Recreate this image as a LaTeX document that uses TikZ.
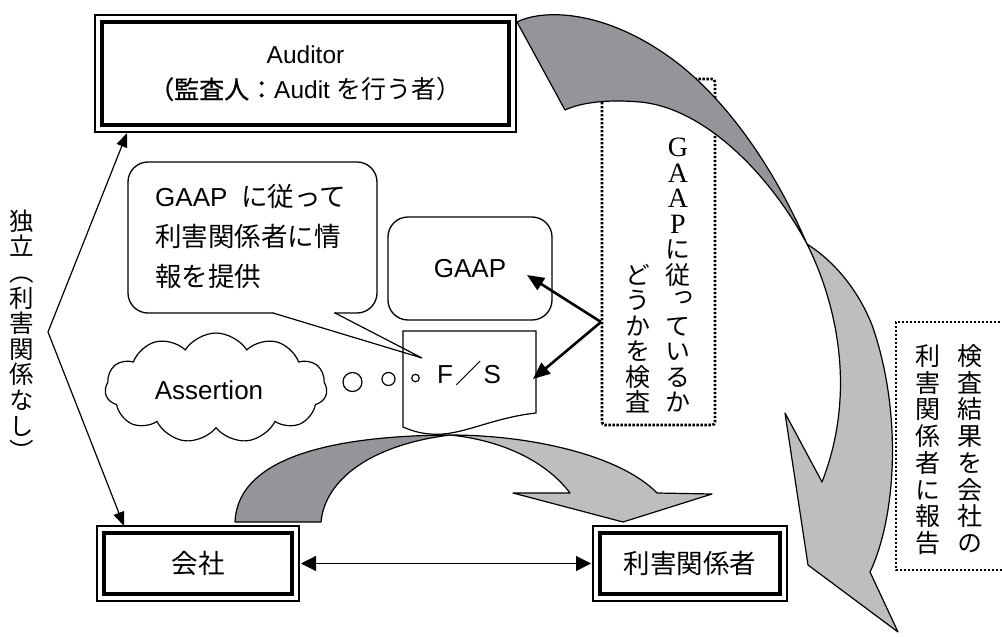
\documentclass[tikz,border=0pt]{standalone}
\usepackage{fontspec}
\setmainfont{Liberation Sans}
\newfontfamily\jpfont[Scale=1.02]{Noto Sans CJK JP}
\newfontfamily\jpboldfont[Scale=1.02,FakeBold=0.8]{Noto Sans CJK JP}
\newfontfamily\jpvfont[RawFeature=+vert]{Noto Sans CJK JP}
\newfontfamily\latvfont{Liberation Serif}
\usetikzlibrary{arrows.meta,shapes.symbols,calc}

\definecolor{ribbondark}{HTML}{939598}
\definecolor{ribbonlight}{HTML}{BCBEC0}

\tikzset{
  frame/.style={draw, line width=1.5pt, fill=white, inner sep=0pt, outer sep=0pt, align=center},
  softbox/.style={draw, line width=1.3pt, fill=white, rounded corners=20pt, inner sep=0pt, outer sep=0pt},
  dotbox/.style={line width=2.6pt, dash pattern=on 2.4pt off 1.6pt},
  ribbon/.style={draw=black, line width=1.2pt, line join=round},
  thinarrow/.style={line width=1.2pt, -{Triangle[length=14pt,width=11pt]}},
  twoway/.style={line width=1.2pt, {Triangle[length=15pt,width=15pt]}-{Triangle[length=15pt,width=15pt]}},
  boldarrow/.style={line width=2.6pt, -{Triangle[length=17pt,width=14pt]}},
  vglyph/.style={inner sep=0pt, outer sep=0pt, anchor=center},
  bubbleline/.style={inner sep=0pt, anchor=base west},
}

% thick inner rule of a framed box
\newcommand\innerframe[1]{%
  \draw[line width=3.5pt] ($(#1.north west)+(7,7)$) rectangle ($(#1.south east)+(-7,-7)$);}

% one column of vertically set characters
\newcommand\vcolumn[8]{%
  \foreach \ch [count=\k from 0] in {#8}{%
    \node[vglyph, font={\jpvfont\fontsize{#5}{#5}\selectfont}, text height=#6, text depth=#7]
      (#1-\k) at (#2,{#3+\k*#4}) {\ch};
  }%
}
% small tsu placed towards the upper right of its cell
\newcommand\smalltsu{\rlap{\hspace{3pt}\raisebox{3pt}{っ}}\phantom{っ}}
% upright roman letter in a vertical column
\newcommand\vlat[1]{{\latvfont\fontsize{28}{28}\selectfont #1}}

\begin{document}
\begin{tikzpicture}[x=1pt, y=-1pt, font=\fontsize{26}{30}\selectfont]
\useasboundingbox (0,0) rectangle (1002,637);
\fill[white] (0,0) rectangle (1002,637);

% dotted frame for the check note (partly hidden by the ribbon)
\draw[dotbox, rounded corners=3pt] (602,79) rectangle (715,425);

% large twisted ribbon arrow from the auditor down to the right
\draw[ribbon, fill=ribbondark]
  (517,22) .. controls (545,8) and (610,10) .. (680,65)
           .. controls (730,105) and (775,170) .. (807,244)
           .. controls (770,175) and (705,108) .. (640,102)
           .. controls (605,99) and (580,103) .. (565,110) -- cycle;
\draw[ribbon, fill=ribbonlight]
  (807,244) .. controls (835,300) and (858,390) .. (822,482)
  -- (785,413) -- (808,565) -- (898,632) -- (870,572)
  .. controls (897,515) and (902,410) .. (872,325)
  .. controls (858,290) and (835,262) .. (807,244) -- cycle;

% auditor
\node[frame, minimum width=421pt, minimum height=117pt, font=\fontsize{24.5}{33}\selectfont]
  (auditor) at (305.5,73.5)
  {Auditor\\[2pt]{\jpboldfont （監査人：}Audit {\jpfont を行う者）}};
\innerframe{auditor}

% company and stakeholders
\node[frame, minimum width=202pt, minimum height=75pt] (kaisha) at (198,563.5) {\jpfont 会社};
\innerframe{kaisha}
\node[frame, minimum width=194pt, minimum height=75pt] (stake) at (690,563.5) {\jpfont 利害関係者};
\innerframe{stake}

% ribbon arrow from the company to the stakeholders
\draw[ribbon, fill=ribbondark]
  (235,522) .. controls (237,470) and (300,436) .. (450,435)
            .. controls (370,445) and (325,480) .. (321,522) -- cycle;
\draw[ribbon, fill=ribbonlight]
  (450,435) .. controls (530,435) and (620,455) .. (657,493)
  -- (712,494) -- (623,522) -- (513,493) -- (570,493)
  .. controls (545,460) and (500,440) .. (450,435) -- cycle;

% speech bubble
\node[softbox, minimum width=249pt, minimum height=151pt] (bubble) at (252.5,237.5) {};
\node[bubbleline] (bub1) at (155,206) {GAAP\hspace{14pt}{\jpfont に従って}};
\node[bubbleline] (bub2) at (155,246) {\jpfont 利害関係者に情};
\node[bubbleline] (bub3) at (155,286) {\jpfont 報を提供};

% GAAP
\node[softbox, minimum width=164pt, minimum height=103pt] (gaap) at (470,268.5) {GAAP};

% financial statements document
\draw[line width=1.2pt, fill=white]
  (403,331) -- (536,331) -- (536,413)
  .. controls (490,418) and (460,437) .. (430,434)
  .. controls (418,433) and (410,430) .. (403,427) -- cycle;
\node (fs) at (469,373) {F\hspace{2pt}{\jpfont ／}\hspace{2pt}S};

% bubble tail pointing into the document
\coordinate (bubbletip) at (422,358);
\fill[white] (274,311.3) rectangle (334,314.7);
\draw[line width=1.2pt] (273,313) -- (bubbletip) -- (335,313);

% assertion cloud with thought circles
\node[cloud, draw, line width=1.2pt, fill=white, cloud puffs=11, cloud puff arc=115,
      aspect=2.1, minimum width=222pt, minimum height=110pt, inner sep=0pt] (cloud) at (216,388) {};
\node (assertion) at (209,390) {Assertion};
\node[circle, draw, line width=1.2pt, minimum size=19pt, inner sep=0pt] (th1) at (352.5,382) {};
\node[circle, draw, line width=1.2pt, minimum size=13pt, inner sep=0pt] (th2) at (388.5,379) {};
\node[circle, draw, line width=1.2pt, minimum size=7.5pt, inner sep=0pt] (th3) at (415.5,378) {};

% checking arrows
\coordinate (pivot) at (601,322);
\coordinate (gaaptip) at (527,275);
\coordinate (fstip) at (533,379);
\draw[boldarrow] (pivot) -- (gaaptip);
\draw[boldarrow] (pivot) -- (fstip);

% independence arrows
\coordinate (indep) at (48,332);
\coordinate (audfoot) at (127,133);
\coordinate (kaishahead) at (124,526);
\draw[thinarrow] (indep) -- (audfoot);
\draw[thinarrow] (indep) -- (kaishahead);

% company <-> stakeholders
\draw[twoway, shorten <=2pt, shorten >=2pt] (kaisha.east) -- (stake.west);

% dotted frame for the report note
\draw[dotbox] (1004,322) -- (896,322) -- (896,570) -- (1004,570);

% vertical notes
\vcolumn{chkA}{678}{147}{25.5}{25}{22pt}{3pt}{\vlat{G},\vlat{A},\vlat{A},\vlat{P},に,従,\smalltsu,て,い,る,か}
\vcolumn{chkB}{638}{274.5}{25.5}{25}{22pt}{3pt}{ど,う,か,を,検,査}
\vcolumn{repA}{970}{356}{26.7}{25}{22pt}{3pt}{検,査,結,果,を,会,社,の}
\vcolumn{repB}{928}{356}{26.7}{25}{22pt}{3pt}{利,害,関,係,者,に,報,告}
\vcolumn{ind}{22}{221}{25.6}{24.5}{21.6pt}{2.9pt}{独,立,︵,利,害,関,係,な,し,︶}

\end{tikzpicture}
\end{document}
